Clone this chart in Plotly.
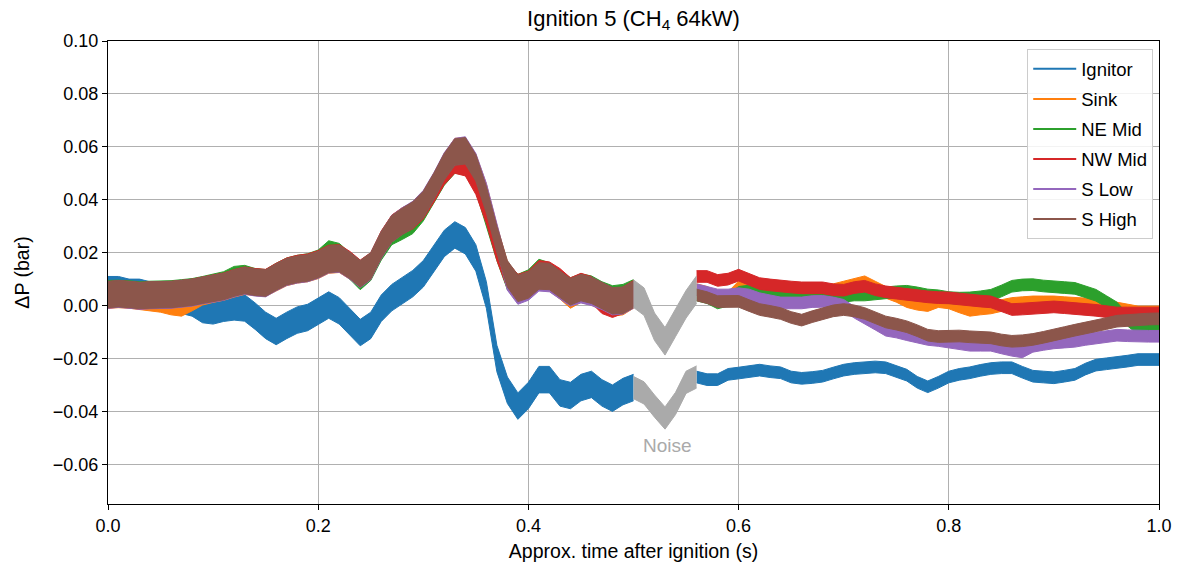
import plotly.graph_objects as go

# ---------------- data ----------------
time_pre = [0.00, 0.01, 0.02, 0.03, 0.04, 0.05, 0.06, 0.07, 0.08, 0.09,
            0.10, 0.11, 0.12, 0.13, 0.14, 0.15, 0.16, 0.17, 0.18, 0.19,
            0.20, 0.21, 0.22, 0.23, 0.24, 0.25, 0.26, 0.27, 0.28, 0.29,
            0.30, 0.31, 0.32, 0.33, 0.34, 0.35, 0.36, 0.37, 0.38, 0.39,
            0.40, 0.41, 0.42, 0.43, 0.44, 0.45, 0.46, 0.47, 0.48, 0.49, 0.50]
time_noise = [0.50, 0.51, 0.52, 0.53, 0.54, 0.55, 0.56]
time_post = [0.56, 0.57, 0.58, 0.59, 0.60, 0.61, 0.62, 0.63, 0.64, 0.65,
             0.66, 0.67, 0.68, 0.69, 0.70, 0.71, 0.72, 0.73, 0.74, 0.75,
             0.76, 0.77, 0.78, 0.79, 0.80, 0.81, 0.82, 0.83, 0.84, 0.85,
             0.86, 0.87, 0.88, 0.89, 0.90, 0.91, 0.92, 0.93, 0.94, 0.95,
             0.96, 0.97, 0.98, 0.99, 1.00]

series_names = ["Ignitor", "Sink", "NE Mid", "NW Mid", "S Low", "S High"]

ignitor_pre = [0.0060, 0.0060, 0.0050, 0.0050, 0.0040, 0.0040, 0.0030, 0.0020, 0.0010, -0.0015,
               -0.0020, -0.0010, -0.0005, -0.0009, -0.0040, -0.0075, -0.0098, -0.0075, -0.0055, -0.0045,
               -0.0020, 0.0002, -0.0020, -0.0060, -0.0102, -0.0075, -0.0010, 0.0030, 0.0056, 0.0083,
               0.0120, 0.0180, 0.0235, 0.0267, 0.0245, 0.0180, 0.0040, -0.0200, -0.0320, -0.0380,
               -0.0340, -0.0280, -0.0280, -0.0330, -0.0340, -0.0310, -0.0298, -0.0330, -0.0350, -0.0325, -0.0310]
sink_pre = [0.0040, 0.0042, 0.0040, 0.0035, 0.0030, 0.0025, 0.0015, 0.0010, 0.0030, 0.0052,
            0.0062, 0.0070, 0.0082, 0.0092, 0.0088, 0.0085, 0.0105, 0.0125, 0.0135, 0.0140,
            0.0152, 0.0172, 0.0175, 0.0150, 0.0118, 0.0148, 0.0225, 0.0288, 0.0315, 0.0340,
            0.0380, 0.0448, 0.0525, 0.0582, 0.0585, 0.0522, 0.0410, 0.0255, 0.0115, 0.0062,
            0.0075, 0.0108, 0.0105, 0.0075, 0.0040, 0.0062, 0.0052, 0.0032, 0.0010, 0.0015, 0.0040]
ne_mid_pre = [0.0045, 0.0046, 0.0044, 0.0040, 0.0042, 0.0043, 0.0044, 0.0048, 0.0052, 0.0060,
              0.0068, 0.0078, 0.0098, 0.0102, 0.0090, 0.0086, 0.0110, 0.0130, 0.0140, 0.0146,
              0.0160, 0.0195, 0.0185, 0.0150, 0.0110, 0.0145, 0.0222, 0.0280, 0.0300, 0.0322,
              0.0370, 0.0440, 0.0505, 0.0550, 0.0545, 0.0480, 0.0350, 0.0220, 0.0110, 0.0068,
              0.0085, 0.0125, 0.0112, 0.0082, 0.0055, 0.0070, 0.0062, 0.0040, 0.0025, 0.0030, 0.0048]
nw_mid_pre = [0.0040, 0.0044, 0.0041, 0.0037, 0.0039, 0.0040, 0.0041, 0.0045, 0.0050, 0.0058,
              0.0066, 0.0073, 0.0086, 0.0096, 0.0090, 0.0087, 0.0110, 0.0130, 0.0140, 0.0145,
              0.0158, 0.0178, 0.0180, 0.0155, 0.0122, 0.0150, 0.0232, 0.0292, 0.0320, 0.0340,
              0.0378, 0.0440, 0.0508, 0.0550, 0.0540, 0.0470, 0.0360, 0.0220, 0.0115, 0.0068,
              0.0080, 0.0120, 0.0115, 0.0090, 0.0055, 0.0072, 0.0060, 0.0020, 0.0005, 0.0020, 0.0045]
s_low_pre = [0.0040, 0.0043, 0.0040, 0.0036, 0.0038, 0.0038, 0.0040, 0.0044, 0.0048, 0.0056,
             0.0063, 0.0070, 0.0083, 0.0093, 0.0086, 0.0083, 0.0106, 0.0126, 0.0135, 0.0140,
             0.0153, 0.0173, 0.0176, 0.0150, 0.0118, 0.0148, 0.0228, 0.0290, 0.0320, 0.0344,
             0.0385, 0.0452, 0.0528, 0.0582, 0.0588, 0.0525, 0.0412, 0.0258, 0.0108, 0.0055,
             0.0070, 0.0105, 0.0102, 0.0075, 0.0048, 0.0060, 0.0050, 0.0035, 0.0015, 0.0018, 0.0040]
s_high_pre = [0.0042, 0.0045, 0.0042, 0.0038, 0.0040, 0.0040, 0.0042, 0.0046, 0.0050, 0.0058,
              0.0065, 0.0072, 0.0085, 0.0095, 0.0088, 0.0085, 0.0108, 0.0128, 0.0137, 0.0142,
              0.0155, 0.0175, 0.0178, 0.0152, 0.0120, 0.0150, 0.0230, 0.0290, 0.0318, 0.0342,
              0.0382, 0.0450, 0.0525, 0.0580, 0.0585, 0.0520, 0.0400, 0.0250, 0.0120, 0.0065,
              0.0078, 0.0112, 0.0110, 0.0080, 0.0052, 0.0068, 0.0058, 0.0038, 0.0018, 0.0020, 0.0042]

ignitor_post = [-0.0270, -0.0280, -0.0280, -0.0260, -0.0255, -0.0250, -0.0244, -0.0250, -0.0254, -0.0270,
                -0.0275, -0.0272, -0.0267, -0.0255, -0.0244, -0.0238, -0.0235, -0.0232, -0.0235, -0.0250,
                -0.0263, -0.0290, -0.0307, -0.0290, -0.0270, -0.0260, -0.0254, -0.0245, -0.0238, -0.0235,
                -0.0235, -0.0252, -0.0267, -0.0270, -0.0273, -0.0267, -0.0260, -0.0240, -0.0225, -0.0220,
                -0.0216, -0.0210, -0.0204, -0.0204, -0.0204]
sink_post = [0.0060, 0.0050, 0.0030, 0.0030, 0.0070, 0.0070, 0.0070, 0.0070, 0.0070, 0.0065,
             0.0060, 0.0060, 0.0060, 0.0060, 0.0070, 0.0080, 0.0090, 0.0070, 0.0050, 0.0035,
             0.0015, 0.0005, 0.0000, 0.0015, 0.0010, -0.0005, -0.0018, -0.0013, -0.0009, 0.0000,
             0.0008, 0.0011, 0.0014, 0.0014, 0.0014, 0.0011, 0.0008, 0.0006, 0.0004, -0.0002,
             -0.0009, -0.0017, -0.0024, -0.0024, -0.0024]
ne_mid_post = [0.0040, 0.0030, 0.0010, 0.0020, 0.0050, 0.0055, 0.0048, 0.0048, 0.0048, 0.0040,
               0.0035, 0.0030, 0.0029, 0.0030, 0.0035, 0.0040, 0.0040, 0.0045, 0.0048, 0.0052,
               0.0054, 0.0048, 0.0040, 0.0037, 0.0030, 0.0028, 0.0029, 0.0033, 0.0039, 0.0055,
               0.0073, 0.0078, 0.0079, 0.0074, 0.0070, 0.0068, 0.0065, 0.0052, 0.0039, 0.0015,
               -0.0009, -0.0055, -0.0087, -0.0089, -0.0090]
nw_mid_post = [0.0110, 0.0110, 0.0095, 0.0100, 0.0115, 0.0100, 0.0083, 0.0078, 0.0073, 0.0070,
               0.0067, 0.0067, 0.0067, 0.0060, 0.0058, 0.0068, 0.0073, 0.0060, 0.0052, 0.0047,
               0.0042, 0.0037, 0.0033, 0.0030, 0.0029, 0.0025, 0.0020, 0.0017, 0.0014, 0.0000,
               -0.0015, -0.0013, -0.0011, -0.0008, -0.0005, -0.0008, -0.0011, -0.0015, -0.0018, -0.0023,
               -0.0028, -0.0028, -0.0028, -0.0028, -0.0028]
s_low_post = [0.0060, 0.0050, 0.0040, 0.0040, 0.0045, 0.0040, 0.0026, 0.0018, 0.0010, 0.0010,
              0.0010, 0.0015, 0.0016, 0.0010, 0.0001, -0.0025, -0.0049, -0.0070, -0.0093, -0.0100,
              -0.0110, -0.0120, -0.0128, -0.0132, -0.0138, -0.0145, -0.0150, -0.0150, -0.0150, -0.0160,
              -0.0169, -0.0175, -0.0154, -0.0147, -0.0141, -0.0138, -0.0135, -0.0128, -0.0122, -0.0117,
              -0.0112, -0.0114, -0.0116, -0.0116, -0.0116]
s_high_post = [0.0040, 0.0030, 0.0015, 0.0015, 0.0016, 0.0000, -0.0015, -0.0022, -0.0030, -0.0045,
               -0.0055, -0.0042, -0.0030, -0.0020, -0.0015, -0.0020, -0.0030, -0.0045, -0.0062, -0.0070,
               -0.0080, -0.0095, -0.0112, -0.0117, -0.0117, -0.0115, -0.0118, -0.0120, -0.0122, -0.0130,
               -0.0135, -0.0133, -0.0128, -0.0120, -0.0110, -0.0102, -0.0093, -0.0085, -0.0078, -0.0068,
               -0.0059, -0.0056, -0.0053, -0.0051, -0.0050]

# "Noise" window (drawn grey): five-sensor group and ignitor
noise_group = [0.0045, 0.0015, -0.0080, -0.0135, -0.0065, 0.0005, 0.0060]
noise_ignitor = [-0.0310, -0.0330, -0.0380, -0.0425, -0.0370, -0.0290, -0.0270]

# half-height of the fast oscillation seen on each trace (bar)
osc_pre = 0.0050
osc_post = 0.0022
osc_noise_group = 0.0052
osc_noise_ignitor = 0.0042

# ---------------- figure ----------------
colors = ["#1f77b4", "#ff7f0e", "#2ca02c", "#d62728", "#9467bd", "#8c564b"]
pre_data = [ignitor_pre, sink_pre, ne_mid_pre, nw_mid_pre, s_low_pre, s_high_pre]
post_data = [ignitor_post, sink_post, ne_mid_post, nw_mid_post, s_low_post, s_high_post]

FONT = "Liberation Sans, Arial, Helvetica, sans-serif"
fig = go.Figure()


def add_band(x, y, half, color):
    lower = [v - half for v in y]
    upper = [v + half for v in y]
    fig.add_trace(go.Scatter(x=x, y=lower, mode="lines", line=dict(color=color, width=1),
                             showlegend=False, hoverinfo="skip"))
    fig.add_trace(go.Scatter(x=x, y=upper, mode="lines", line=dict(color=color, width=1),
                             fill="tonexty", fillcolor=color, showlegend=False, hoverinfo="skip"))


for name, col, pre, post in zip(series_names, colors, pre_data, post_data):
    add_band(time_pre, pre, osc_pre, col)
    add_band(time_post, post, osc_post, col)

add_band(time_noise, noise_group, osc_noise_group, "#aaaaaa")
add_band(time_noise, noise_ignitor, osc_noise_ignitor, "#aaaaaa")

for name, col in zip(series_names, colors):
    fig.add_trace(go.Scatter(x=[None], y=[None], mode="lines", name=name,
                             legendgroup=name, line=dict(color=col, width=2)))

fig.add_annotation(x=0.532, y=-0.0527, text="Noise", showarrow=False,
                   font=dict(family=FONT, size=19, color="#aaaaaa"))

ytick_vals = [-0.06, -0.04, -0.02, 0.00, 0.02, 0.04, 0.06, 0.08, 0.10]
ytick_text = ["\u22120.06", "\u22120.04", "\u22120.02", "0.00", "0.02", "0.04", "0.06", "0.08", "0.10"]
xtick_vals = [0.0, 0.2, 0.4, 0.6, 0.8, 1.0]
xtick_text = ["0.0", "0.2", "0.4", "0.6", "0.8", "1.0"]

fig.update_layout(
    width=1184, height=574,
    margin=dict(l=108, r=22, t=41, b=70),
    paper_bgcolor="white", plot_bgcolor="white",
    font=dict(family=FONT, size=18, color="black"),
    title=dict(text="Ignition 5 (CH<sub>4</sub> 64kW)", x=0.5, xref="paper", xanchor="center",
               y=1 - 18 / 574, yref="container", yanchor="middle",
               font=dict(family=FONT, size=22, color="black")),
    legend=dict(x=0.9945, y=0.982, xanchor="right", yanchor="top",
                bgcolor="rgba(255,255,255,0.85)", bordercolor="#cccccc", borderwidth=1,
                font=dict(family=FONT, size=18.5, color="black"),
                traceorder="grouped", tracegroupgap=3, itemwidth=43),
    showlegend=True,
)
fig.update_xaxes(range=[0, 1], tickvals=xtick_vals, ticktext=xtick_text,
                 tickfont=dict(family=FONT, size=18),
                 showgrid=True, gridcolor="#b0b0b0", gridwidth=1, zeroline=False,
                 showline=True, linecolor="black", linewidth=1.3, mirror=True,
                 ticks="outside", ticklen=5, tickcolor="black",
                 title=dict(text="Approx. time after ignition (s)", standoff=9,
                            font=dict(family=FONT, size=19.5)))
fig.update_yaxes(range=[-0.075, 0.10], tickvals=ytick_vals, ticktext=ytick_text,
                 tickfont=dict(family=FONT, size=18),
                 showgrid=True, gridcolor="#b0b0b0", gridwidth=1, zeroline=False,
                 showline=True, linecolor="black", linewidth=1.3, mirror=True,
                 ticks="outside", ticklen=5, tickcolor="black",
                 title=dict(text="\u0394P (bar)", standoff=17, font=dict(family=FONT, size=19.5)))

fig.write_html("out.html")
